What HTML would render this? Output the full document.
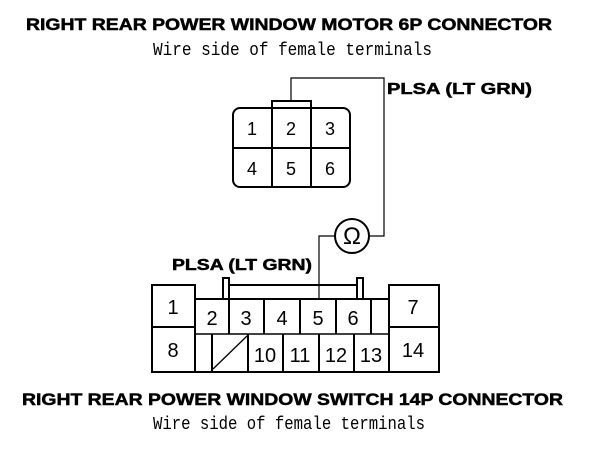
<!DOCTYPE html>
<html><head><meta charset="utf-8"><style>html,body{margin:0;padding:0;background:#fff}svg{display:block}</style></head><body>
<svg width="608" height="452" viewBox="0 0 608 452" xmlns="http://www.w3.org/2000/svg">
<g font-family="Liberation Sans, sans-serif" font-weight="bold" fill="#000" stroke="#000" stroke-width="0.5">
<text x="26" y="30" font-size="17" textLength="526" lengthAdjust="spacingAndGlyphs">RIGHT REAR POWER WINDOW MOTOR 6P CONNECTOR</text>
<text x="22" y="405" font-size="17" textLength="541" lengthAdjust="spacingAndGlyphs">RIGHT REAR POWER WINDOW SWITCH 14P CONNECTOR</text>
<text x="387" y="94" font-size="16" textLength="145" lengthAdjust="spacingAndGlyphs">PLSA (LT GRN)</text>
<text x="172" y="270" font-size="16" textLength="140" lengthAdjust="spacingAndGlyphs">PLSA (LT GRN)</text>
</g>
<g font-family="Liberation Mono, monospace" fill="#000" font-size="18">
<text x="153" y="55" textLength="279" lengthAdjust="spacingAndGlyphs">Wire side of female terminals</text>
<text x="153" y="429" textLength="272" lengthAdjust="spacingAndGlyphs">Wire side of female terminals</text>
</g>
<g fill="none" stroke="#000" stroke-width="2">
<rect x="233" y="108" width="117" height="79" rx="7"/>
<line x1="272" y1="108" x2="272" y2="187"/>
<line x1="311" y1="108" x2="311" y2="187"/>
<line x1="233" y1="148" x2="350" y2="148"/>
<polyline points="272,108 272,101 311,101 311,108"/>
</g>
<g fill="none" stroke="#000" stroke-width="1.2">
<polyline points="291,101 291,78 384,78 384,236 370,236"/>
<circle cx="352" cy="236" r="17" stroke-width="2"/>
<polyline points="335,236 319,236 319,299"/>
</g>
<g font-family="Liberation Sans, sans-serif" font-size="18" fill="#000" text-anchor="middle">
<text x="252" y="135">1</text><text x="291" y="135">2</text><text x="330" y="135">3</text>
<text x="252" y="175">4</text><text x="291" y="175">5</text><text x="330" y="175">6</text>
<text x="352" y="244" font-size="24">Ω</text>
</g>
<g fill="none" stroke="#000" stroke-width="2">
<rect x="152" y="285" width="43" height="87"/>
<rect x="389" y="285" width="50" height="87"/>
<line x1="152" y1="327" x2="195" y2="327"/>
<line x1="389" y1="327" x2="439" y2="327"/>
<line x1="195" y1="299" x2="389" y2="299"/>
<line x1="195" y1="372" x2="389" y2="372"/>
<line x1="195" y1="334" x2="389" y2="334" stroke-width="1.5"/>
<line x1="229" y1="299" x2="229" y2="334"/>
<line x1="264" y1="299" x2="264" y2="334"/>
<line x1="300" y1="299" x2="300" y2="334"/>
<line x1="336" y1="299" x2="336" y2="334"/>
<line x1="371" y1="299" x2="371" y2="334"/>
<line x1="212" y1="334" x2="212" y2="372"/>
<line x1="248" y1="334" x2="248" y2="372"/>
<line x1="283" y1="334" x2="283" y2="372"/>
<line x1="319" y1="334" x2="319" y2="372"/>
<line x1="354" y1="334" x2="354" y2="372"/>
<line x1="213" y1="369" x2="247" y2="336" stroke-width="1.3"/>
<polyline points="223,299 223,278 229,278 229,299"/>
<polyline points="357,299 357,278 363,278 363,299"/>
<line x1="229" y1="285" x2="357" y2="285"/>
</g>
<g font-family="Liberation Sans, sans-serif" font-size="20" fill="#000" text-anchor="middle">
<text x="173" y="314">1</text><text x="212" y="325">2</text><text x="246" y="325">3</text>
<text x="282" y="325">4</text><text x="318" y="325">5</text><text x="353" y="325">6</text>
<text x="413" y="314">7</text><text x="173" y="357">8</text>
<text x="265" y="362">10</text><text x="300" y="362">11</text><text x="336" y="362">12</text>
<text x="371" y="362">13</text><text x="413" y="357">14</text>
</g>
</svg>
</body></html>
